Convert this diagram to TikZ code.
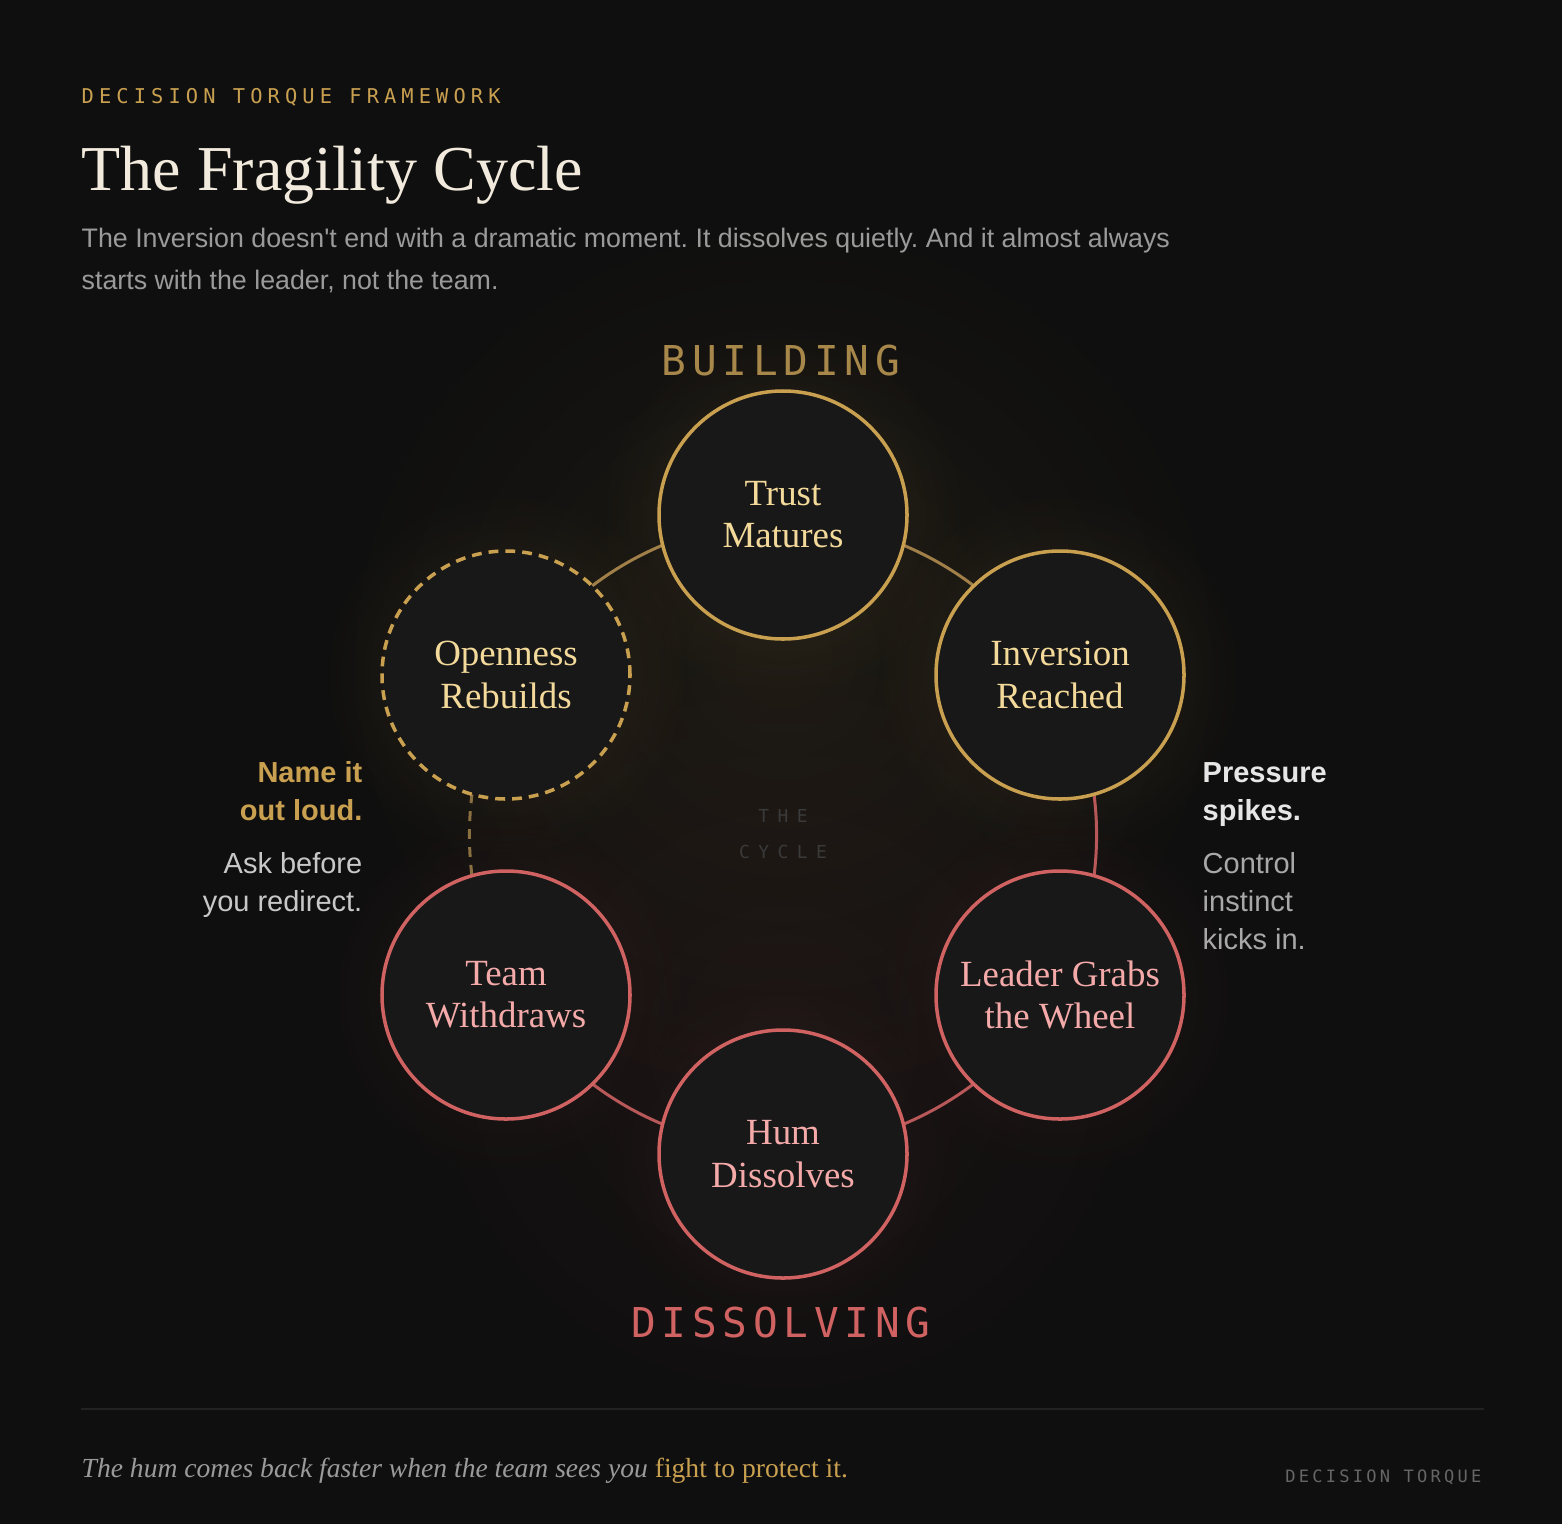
\documentclass[tikz,border=0pt]{standalone}
\usepackage{fontspec}
\setmainfont{Liberation Serif}
\setsansfont{Liberation Sans}
\setmonofont{DejaVu Sans Mono}
\newfontfamily\kickerfont[LetterSpace=25]{DejaVu Sans Mono}
\newfontfamily\phasefont[LetterSpace=14]{DejaVu Sans Mono}
\newfontfamily\hubfont[LetterSpace=47]{DejaVu Sans Mono}
\newfontfamily\brandfont[LetterSpace=19]{DejaVu Sans Mono}
\usepackage{tikz}
\usetikzlibrary{positioning, fadings}
\pgfdeclarelayer{bg}
\pgfdeclarelayer{links}
\pgfsetlayers{bg,links,main}
\frenchspacing

\definecolor{cBg}{HTML}{0F0F0F}
\definecolor{cFill}{HTML}{181818}
\definecolor{cGold}{HTML}{C9A050}
\definecolor{cGoldDim}{HTML}{A08048}
\definecolor{cGoldDash}{HTML}{8A7040}
\definecolor{cPhase}{HTML}{A8884A}
\definecolor{cGoldText}{HTML}{F3D99A}
\definecolor{cRed}{HTML}{D06262}
\definecolor{cRedDim}{HTML}{B85858}
\definecolor{cRedText}{HTML}{F5AAAA}
\definecolor{cCream}{HTML}{F2EBDD}
\definecolor{cGrey}{HTML}{9A9A9A}
\definecolor{cLight}{HTML}{C8C8C8}
\definecolor{cWhite}{HTML}{E6E6E6}
\definecolor{cMid}{HTML}{A8A8A8}
\definecolor{cHub}{HTML}{3A3A3A}
\definecolor{cBrand}{HTML}{666666}
\definecolor{cRule}{HTML}{222222}

\tikzfading[name=glowfade, inner color=transparent!30, outer color=transparent!100]

\newcommand{\stagefont}{\fontsize{10.5pt}{12pt}\selectfont}
\newcommand{\cuefont}{\sffamily\fontsize{8.25pt}{10.8pt}\selectfont}

\tikzset{
  stage/.style={circle, minimum size=2.48cm, inner sep=0pt, fill=cFill,
    line width=1pt, align=center, font=\stagefont},
  goldstage/.style={stage, draw=cGold, text=cGoldText},
  redstage/.style={stage, draw=cRed, text=cRedText},
  openstage/.style={goldstage, dash pattern=on 2.8pt off 2pt},
  goldlink/.style={draw=cGoldDim, line width=0.85pt, bend left=23},
  redlink/.style={draw=cRedDim, line width=0.85pt, bend left=23},
  dashlink/.style={draw=cGoldDash, line width=0.85pt, bend left=23,
    dash pattern=on 2.8pt off 2.3pt},
  cue/.style={inner sep=0pt, font=\cuefont},
  boldcue/.style={inner sep=0pt, font=\cuefont\bfseries},
  phase/.style={inner sep=0pt, anchor=base, font=\phasefont\fontsize{11.7pt}{14pt}\selectfont}
}

\begin{document}
\begin{tikzpicture}
  \useasboundingbox (0,0) rectangle (15.62,-15.24);

  \node[anchor=base west, inner sep=0pt, text=cGold, font=\kickerfont\fontsize{5.8pt}{7pt}\selectfont]
    (kicker) at (0.81,-1.03) {DECISION TORQUE FRAMEWORK};
  \node[anchor=base west, inner sep=0pt, text=cCream, font=\fontsize{18.2pt}{22pt}\selectfont]
    (title) at (0.81,-1.90) {The Fragility Cycle};
  \node[anchor=base west, inner sep=0pt, align=left, text=cGrey, font=\sffamily\fontsize{7.62pt}{11.95pt}\selectfont]
    (lede) at (0.81,-2.89) {The Inversion doesn\textquotesingle t end with a dramatic moment. It dissolves quietly. And it almost always\\starts with the leader, not the team.};

  \node[phase, text=cPhase] (building) at (7.81,-3.75) {BUILDING};
  \node[phase, text=cRed] (dissolving) at (7.81,-13.37) {DISSOLVING};

  \node[goldstage] (trust) at (7.83,-5.15) {Trust\\Matures};
  \node[goldstage] (inv) at (10.60,-6.75) {Inversion\\Reached};
  \node[redstage] (lead) at (10.60,-9.95) {Leader Grabs\\the Wheel};
  \node[redstage] (hum) at (7.83,-11.54) {Hum\\Dissolves};
  \node[redstage] (team) at (5.06,-9.95) {Team\\Withdraws};
  \node[openstage] (open) at (5.06,-6.75) {Openness\\Rebuilds};

  \node[anchor=base, inner sep=0pt, align=center, text=cHub, font=\hubfont\fontsize{5.1pt}{10pt}\selectfont]
    (hub) at (7.83,-8.58) {THE\\CYCLE};

  \node[boldcue, anchor=base east, align=right, text=cGold] (namecue) at (3.63,-8.20) {Name it\\out loud.};
  \node[cue, anchor=base east, align=right, text=cLight] (askcue) at (3.63,-9.11) {Ask before\\you redirect.};
  \node[boldcue, anchor=base west, align=left, text=cWhite] (pressurecue) at (12.02,-8.20) {Pressure\\spikes.};
  \node[cue, anchor=base west, align=left, text=cMid] (controlcue) at (12.02,-9.49) {Control\\instinct\\kicks in.};

  \draw[cRule, line width=0.5pt] (0.81,-14.09) -- (14.84,-14.09);
  \node[anchor=base west, inner sep=0pt, text=cGrey, font=\itshape\fontsize{7.85pt}{10pt}\selectfont]
    (footnote) at (0.81,-14.77) {The hum comes back faster when the team sees you {\upshape\color{cGold}fight to protect it.}};
  \node[anchor=base east, inner sep=0pt, text=cBrand, font=\brandfont\fontsize{4.85pt}{6pt}\selectfont]
    (brand) at (14.82,-14.82) {DECISION TORQUE};

  \begin{pgfonlayer}{bg}
    \fill[cBg] (0,0) rectangle (15.62,-15.24);
    \fill[cGold, path fading=glowfade, fill opacity=0.11] (7.83,-6.6) circle (4.6);
    \fill[cRed, path fading=glowfade, fill opacity=0.08] (7.83,-10.4) circle (4.2);
    \foreach \n in {trust, inv, open}
      \fill[cGold, path fading=glowfade, fill opacity=0.18] (\n) circle (1.85);
    \foreach \n in {lead, hum, team}
      \fill[cRed, path fading=glowfade, fill opacity=0.14] (\n) circle (1.85);
  \end{pgfonlayer}

  \begin{pgfonlayer}{links}
    \draw[goldlink] (open.center) to (trust.center);
    \draw[goldlink] (trust.center) to (inv.center);
    \draw[redlink] (inv.center) to (lead.center);
    \draw[redlink] (lead.center) to (hum.center);
    \draw[redlink] (hum.center) to (team.center);
    \draw[dashlink] (team.center) to (open.center);
  \end{pgfonlayer}
\end{tikzpicture}
\end{document}
